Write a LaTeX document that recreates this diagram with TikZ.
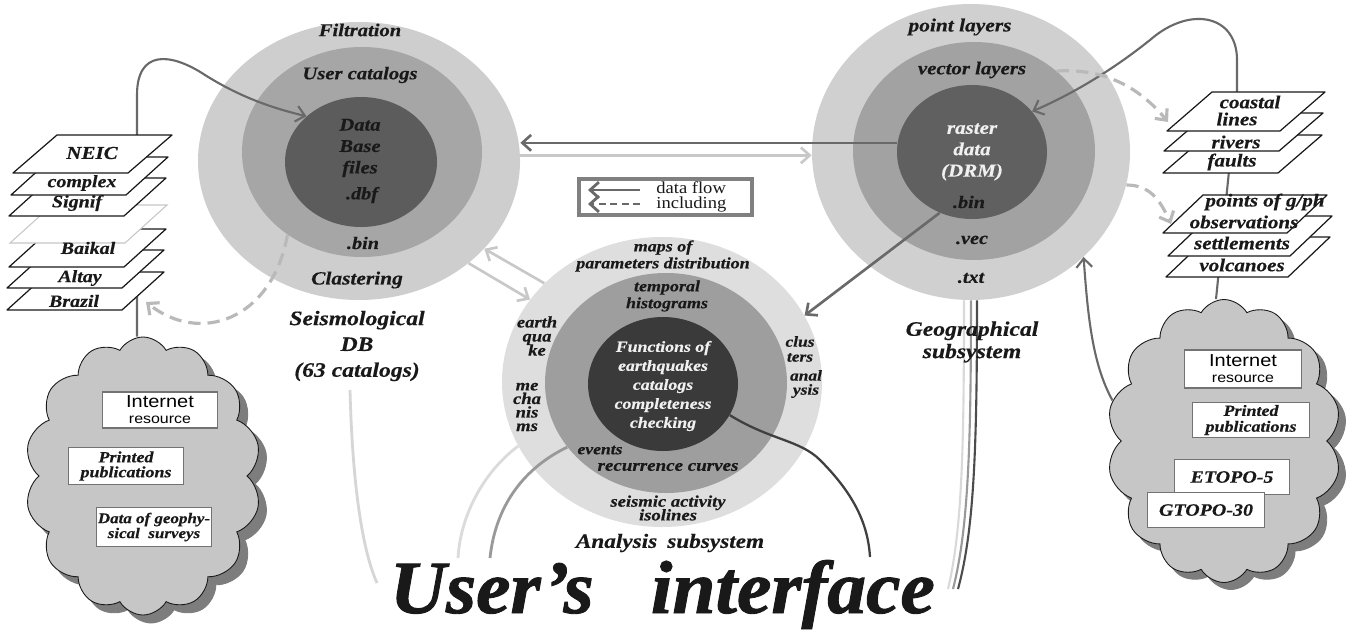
\documentclass[tikz,border=0pt]{standalone}
\usepackage{fontspec}
\setmainfont{Liberation Serif}[FakeStretch=1.15, FakeBold=0.4]
\newfontfamily\sansfam{Liberation Sans}[FakeStretch=1.15]
\newfontfamily\plainfam{Liberation Serif}[FakeStretch=1.1]
\newfontfamily\titlefam{Liberation Serif}[FakeBold=1.2]
\usepackage{graphicx}
\usetikzlibrary{shapes.geometric,shapes.symbols,arrows.meta,calc}

% ring shades
\definecolor{seisA}{RGB}{206,206,206}
\definecolor{seisB}{RGB}{166,166,166}
\definecolor{seisC}{RGB}{92,92,92}
\definecolor{anaA}{RGB}{222,222,222}
\definecolor{anaB}{RGB}{158,158,158}
\definecolor{anaC}{RGB}{58,58,58}
\definecolor{geoA}{RGB}{208,208,208}
\definecolor{geoB}{RGB}{162,162,162}
\definecolor{geoC}{RGB}{96,96,96}
% connectors and clouds
\definecolor{flowDark}{RGB}{105,105,105}
\definecolor{flowLight}{RGB}{200,200,200}
\definecolor{dashGray}{RGB}{185,185,185}
\definecolor{cloudFill}{RGB}{198,198,198}
\definecolor{cloudShade}{RGB}{125,125,125}
\definecolor{ink}{RGB}{25,25,25}

% one drawing unit = one pixel
\newcommand\pxl[1]{#1*0.02cm}
\newcommand\setfs[2]{\fontsize{#1}{#2}\selectfont\lineskiplimit=-100pt\relax}
% a data sheet: bottom-left x, top y, skew, width, height
\newcommand\sheet[6][sheetline]{%
  \filldraw[#1] (#2+#4,#3) -- (#2+#4+#5,#3) -- (#2+#5,#3+#6) -- (#2,#3+#6) -- cycle;}

\begin{document}
\begin{tikzpicture}[x=0.02cm, y=-0.02cm,
  ring/.style={ellipse, inner sep=0pt, draw=none},
  bi/.style 2 args={font=\bfseries\itshape\setfs{#1}{#2}, inner sep=0pt, align=center, text=ink},
  sheetline/.style={draw=ink, fill=white, line width=0.7pt, line join=round},
  faintsheet/.style={draw=black!22, fill=white, line width=0.6pt},
  tip/.style={-{Straight Barb[length=5pt,width=9pt]}},
  darkarr/.style={draw=flowDark, line width=1.5pt, tip},
  feedarr/.style={draw=flowDark, line width=1.2pt, tip},
  lightarr/.style={draw=flowLight, line width=1.5pt, tip},
  dasharr/.style={draw=dashGray, line width=1.8pt, dash pattern=on 7pt off 4pt, tip},
  cloudbody/.style={cloud, cloud puffs=14, cloud puff arc=120, inner sep=0pt, draw=ink, line width=0.5pt},
  srcbox/.style={draw=black!55, line width=0.6pt, fill=white, inner sep=0pt, align=center, minimum width=\pxl{115}}
]
\useasboundingbox (0,0) rectangle (1351,635);
\fill[white] (0,0) rectangle (1351,635);

% ---------- the three subsystems ----------
\node[ring, fill=seisA, minimum width=\pxl{322}, minimum height=\pxl{278}] (seisOuter) at (359,161) {};
\node[ring, fill=seisB, minimum width=\pxl{240}, minimum height=\pxl{210}] (seisMiddle) at (362,152) {};
\node[ring, fill=seisC, minimum width=\pxl{152}, minimum height=\pxl{130}] (seisInner) at (361,162) {};

\node[ring, fill=geoA, minimum width=\pxl{318}, minimum height=\pxl{296}] (geoOuter) at (971,152) {};
\node[ring, fill=geoB, minimum width=\pxl{242}, minimum height=\pxl{218}] (geoMiddle) at (974,151) {};
\node[ring, fill=geoC, minimum width=\pxl{150}, minimum height=\pxl{134}] (geoInner) at (972,152) {};

\node[ring, fill=anaA, minimum width=\pxl{320}, minimum height=\pxl{290}] (anaOuter) at (662,382) {};
\node[ring, fill=anaB, minimum width=\pxl{242}, minimum height=\pxl{220}] (anaMiddle) at (666,383) {};
\node[ring, fill=anaC, minimum width=\pxl{150}, minimum height=\pxl{134}] (anaInner) at (663,384) {};

% ---------- source clouds ----------
\node[cloudbody, fill=cloudShade, draw=cloudShade, minimum width=\pxl{236}, minimum height=\pxl{278}] (lcloudShadow) at (151,484) {};
\node[cloudbody, fill=cloudFill, minimum width=\pxl{236}, minimum height=\pxl{278}] (lcloud) at (143,476) {};
\node[cloudbody, fill=cloudShade, draw=cloudShade, minimum width=\pxl{234}, minimum height=\pxl{283}] (rcloudShadow) at (1231,448) {};
\node[cloudbody, fill=cloudFill, minimum width=\pxl{234}, minimum height=\pxl{283}] (rcloud) at (1224,441) {};

\node[srcbox, minimum height=\pxl{36}, font=\sansfam\setfs{7.9}{9.1}] (lNet) at (160,410) {{\setfs{9.9}{9.1}Internet}\\resource};
\node[srcbox, minimum height=\pxl{37}, bi={8.9}{8.5}] (lPrint) at (126,466) {Printed\\publications};
\node[srcbox, minimum height=\pxl{39}, bi={8.4}{8.5}] (lSurvey) at (154,527) {Data of geophy-\\sical\ \ surveys};

\node[srcbox, minimum width=\pxl{117}, minimum height=\pxl{38}, font=\sansfam\setfs{7.9}{9.1}] (rNet) at (1243,369) {{\setfs{9.9}{9.1}Internet}\\resource};
\node[srcbox, minimum width=\pxl{117}, minimum height=\pxl{35}, bi={8.9}{9}] (rPrint) at (1251,420) {Printed\\publications};
\node[srcbox, minimum height=\pxl{35}, bi={9.9}{9.9}] (rEtopo) at (1232,477) {ETOPO-5};
\node[srcbox, minimum width=\pxl{117}, minimum height=\pxl{35}, bi={9.9}{9.9}] (rGtopo) at (1206,510) {GTOPO-30};

% ---------- free ends of connectors ----------
\coordinate (neicTop) at (137,135);
\coordinate (brazilTip) at (146,302);
\coordinate (coastTop) at (1237,92);
\coordinate (volcFoot) at (1216,277);
\coordinate (coastTip) at (1168,122);
\coordinate (pointsTip) at (1171,224);
\coordinate (dbFoot) at (350,390);
\coordinate (uiLeft) at (377,583);
\coordinate (uiA) at (458,558);
\coordinate (uiB) at (490,558);
\coordinate (uiC) at (870,557);
\coordinate (uiD1) at (948,589);
\coordinate (uiD2) at (953,589);
\coordinate (uiD3) at (958,589);

% ---------- data flow between subsystems ----------
\draw[darkarr] (geoInner.173) -- (geoInner.173 -| seisOuter.east);
\draw[lightarr] (seisOuter.2) -- (seisOuter.2 -| geoOuter.west);
\draw[lightarr] (anaOuter.140) -- (seisOuter.-35);
\draw[lightarr] (seisOuter.-43) -- (anaOuter.148);
\draw[darkarr] (geoInner.-118) -- (anaOuter.25);

% feeds from the sources
\draw[feedarr] (lcloud.north -| neicTop) -- (neicTop) -- (137,95)
  .. controls (137,50) and (170,52) .. (205,75)
  .. controls (240,97) and (272,108) .. (seisInner.140);
\draw[feedarr] (rcloud.north -| volcFoot) -- (coastTop) -- (1237,60)
  .. controls (1237,15) and (1190,5) .. (1150,40)
  .. controls (1110,72) and (1070,95) .. (geoInner.34);
\draw[feedarr] (rcloud.160) .. controls (1093,365) and (1088,320) .. (geoOuter.-43);

% links down to the user's interface
\draw[line width=1.6pt, draw=black!16] (dbFoot) .. controls (352,470) and (360,545) .. (uiLeft);
\draw[line width=1.6pt, draw=black!14] (anaOuter.-156) .. controls (480,475) and (460,520) .. (uiA);
\draw[line width=1.6pt, draw=black!40] (anaMiddle.-147) .. controls (520,470) and (495,510) .. (uiB);
\draw[line width=1.3pt, draw=black!75] (anaInner.-25) .. controls (770,440) and (800,440) .. (820,460)
  .. controls (855,495) and (868,525) .. (uiC);
\draw[line width=1.2pt, draw=black!15] ([xshift=-\pxl{7}]geoOuter.south) .. controls (964,450) and (962,530) .. (uiD1);
\draw[line width=1.2pt, draw=black!40] (geoOuter.south) .. controls (971,450) and (968,530) .. (uiD2);
\draw[line width=1.2pt, draw=black!70] ([xshift=\pxl{6}]geoOuter.south) .. controls (977,450) and (974,530) .. (uiD3);

% ---------- catalog sheets ----------
\sheet{7}{272}{42}{115}{38}
\sheet{7}{250}{42}{115}{38}
\sheet{9}{229}{42}{115}{38}
\sheet[faintsheet]{10}{205}{42}{115}{38}
\sheet{9}{178}{42}{115}{38}
\sheet{11}{157}{42}{115}{38}
\sheet{13}{135}{44}{115}{38}

\node[bi={10.4}{10.4}] (sNeic) at (92,153) {NEIC};
\node[bi={9.9}{9.9}] (sComplex) at (82,183) {complex};
\node[bi={9.9}{9.9}] (sSignif) at (77,203) {Signif};
\node[bi={9.9}{9.9}] (sBaikal) at (88,248) {Baikal};
\node[bi={9.9}{9.9}] (sAltay) at (80,278) {Altay};
\node[bi={9.9}{9.9}] (sBrazil) at (74,301) {Brazil};

% ---------- map layer sheets ----------
\sheet{1163}{135}{44}{115}{38}
\sheet{1164}{113}{44}{115}{38}
\sheet{1167}{92}{45}{113}{39}
\sheet{1166}{237}{42}{122}{40}
\sheet{1168}{216}{42}{122}{40}
\sheet{1163}{195}{40}{124}{38}

\node[bi={10.4}{10.4}] (lCoastal) at (1250,102) {coastal};
\node[bi={10.4}{10.4}] (lLines) at (1237,119) {lines};
\node[bi={10.4}{10.4}] (lRivers) at (1236,142) {rivers};
\node[bi={10.4}{10.4}] (lFaults) at (1232,162) {faults};
\node[bi={10.4}{10.4}] (lPoints) at (1265,202) {points of g/ph};
\node[bi={10.4}{10.4}] (lObs) at (1244,222) {observations};
\node[bi={10.4}{10.4}] (lSettle) at (1242,243) {settlements};
\node[bi={10.4}{10.4}] (lVolc) at (1242,265) {volcanoes};

% "including" links
\draw[dasharr] (seisMiddle.-132) .. controls (272,320) and (200,345) .. (brazilTip);
\draw[dasharr] (geoMiddle.44) .. controls (1105,68) and (1140,88) .. (coastTip);
\draw[dasharr] (geoOuter.-12) .. controls (1150,185) and (1160,200) .. (pointsTip);

% ---------- legend ----------
\node[draw=black!50, line width=2.2pt, minimum width=\pxl{173}, minimum height=\pxl{36}, inner sep=0pt] (legend) at (665.5,197) {};
\coordinate (lgA1) at (640,190);
\coordinate (lgA2) at (588,190);
\coordinate (lgB1) at (640,204);
\coordinate (lgB2) at (588,204);
\draw[darkarr, line width=1.6pt] (lgA1) -- (lgA2);
\draw[darkarr, line width=1.6pt, dash pattern=on 4pt off 2.5pt] (lgB1) -- (lgB2);
\node[anchor=west, inner sep=0pt, font=\plainfam\setfs{9.6}{9.6}, text=ink] (lgT1) at (656,188) {data flow};
\node[anchor=west, inner sep=0pt, font=\plainfam\setfs{9.6}{9.6}, text=ink] (lgT2) at (656,204) {including};

% ---------- seismological DB labels ----------
\node[bi={10.2}{10.2}] (tFilt) at (360,30) {Filtration};
\node[bi={10.2}{10.2}] (tUcat) at (360,75) {User catalogs};
\node[bi={10.2}{12.2}] (tDbf) at (360,148) {Data\\Base\\files};
\node[bi={10}{10}] (tDbfExt) at (362,195) {.dbf};
\node[bi={10}{10}] (tSbin) at (363,243) {.bin};
\node[bi={10.6}{10.6}] (tClast) at (357,280) {Clastering};
\node[bi={11.7}{14.7}] (tSeisDB) at (357,346) {Seismological\\DB\\(63 catalogs)};

% ---------- geographical labels ----------
\node[bi={10.6}{10.6}] (tPoint) at (960,27) {point layers};
\node[bi={10.3}{10.3}] (tVect) at (972,70) {vector layers};
\node[bi={10.4}{12.2}, text=white!94!black] (tRaster) at (972,152) {raster\\data\\(DRM)};
\node[bi={10}{10}] (tGbin) at (969,202) {.bin};
\node[bi={10}{10}] (tVec) at (972,240) {.vec};
\node[bi={10}{10}] (tTxt) at (971,278) {.txt};
\node[bi={11.7}{12.7}] (tGeo) at (972,342) {Geographical\\subsystem};

% ---------- analysis labels ----------
\node[bi={8.9}{9.6}] (tMaps) at (663,256) {maps of\\parameters distribution};
\node[bi={8.9}{9.6}] (tTemp) at (667,296) {temporal\\histograms};
\node[bi={8.8}{10.8}, text=white!94!black] (tFunc) at (663,386) {Functions of\\earthquakes\\catalogs\\completeness\\checking};
\node[bi={9.2}{8}] (tEq) at (537,336) {earth\\qua\\ke};
\node[bi={9.2}{7.7}] (tMech) at (527,407) {me\\cha\\nis\\ms};
\node[bi={8.6}{8.5}] (tClus) at (800,349) {clus\\ters};
\node[bi={8.6}{8}] (tAnal) at (806,384) {anal\\ysis};
\node[bi={8.7}{8.7}] (tEvents) at (600,450) {events};
\node[bi={9.4}{9.4}] (tRecur) at (668,467) {recurrence curves};
\node[bi={9.2}{7.8}] (tSeisAct) at (668,508) {seismic activity\\isolines};
\node[bi={11.5}{11.5}] (tAnaSub) at (670,543) {Analysis\hspace{0.5em}subsystem};

% ---------- title ----------
\node[anchor=base, inner sep=0pt, text=ink] (ui) at (662.5,613)
  {\resizebox{10.9cm}{\height}{\titlefam\bfseries\itshape\setfs{42.8}{42.8}User’s\hspace{0.74em}interface}};
\end{tikzpicture}
\end{document}
